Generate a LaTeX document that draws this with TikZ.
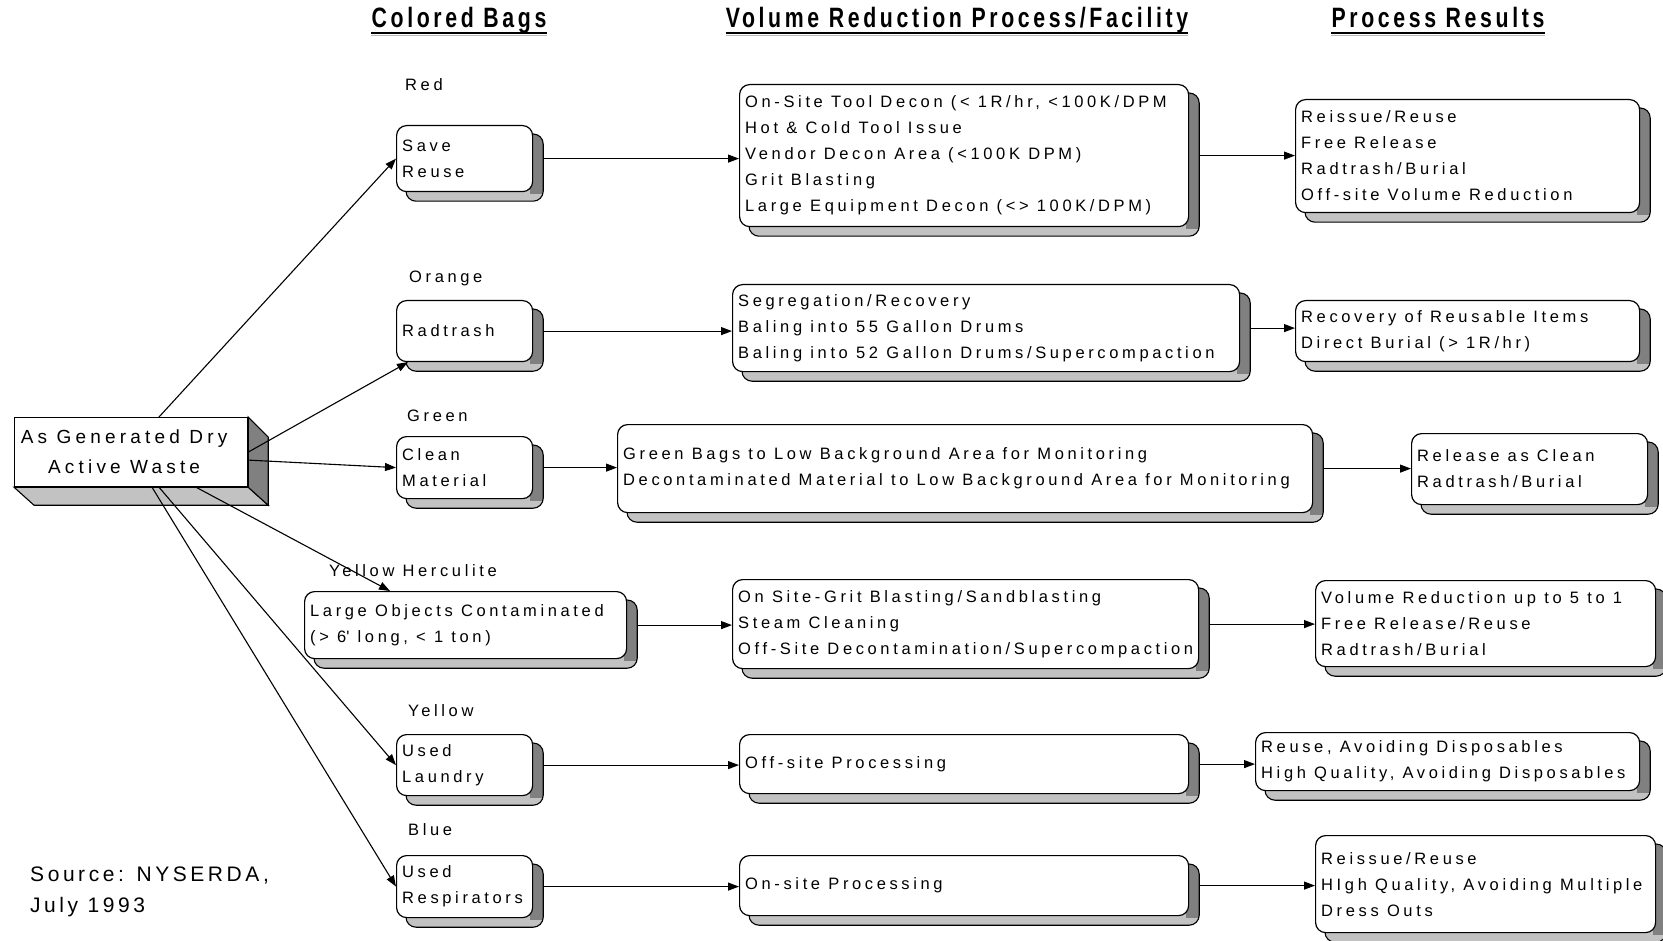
\documentclass[tikz,border=0pt]{standalone}
\usepackage{fontspec}
\setmainfont{Liberation Sans}
\newfontfamily\bodyfont[LetterSpace=22]{Liberation Sans}
\newfontfamily\notefont[LetterSpace=17]{Liberation Sans}
\newfontfamily\hdrfont[LetterSpace=13,FakeStretch=0.76]{Liberation Sans}
\usetikzlibrary{calc,arrows.meta}
\pgfdeclarelayer{shadowlayer}
\pgfsetlayers{shadowlayer,main}
\definecolor{shlight}{gray}{0.76}
\definecolor{shdark}{gray}{0.5}
\tikzset{
  bagbox/.style={draw=black, line width=1.2pt, rounded corners=10pt, fill=white, inner sep=0pt, anchor=north west},
  txt/.style={font=\bodyfont\fontsize{16.5}{26}\selectfont, align=left, anchor=west, inner sep=0pt},
  lbl/.style={font=\bodyfont\fontsize{16.5}{26}\selectfont, anchor=west, inner sep=0pt},
  hdr/.style={font=\hdrfont\bfseries\fontsize{28}{30}\selectfont, anchor=base, inner sep=0pt},
  arr/.style={line width=1.1pt, -{Triangle[length=11pt,width=8pt]}},
}
\newcommand\shadowof[1]{%
  \begin{pgfonlayer}{shadowlayer}
    \path[fill=shlight, rounded corners=10pt] ($(#1.north west)+(10,9)$) rectangle ($(#1.south east)+(10,9)$);
    \begin{scope}
      \clip[rounded corners=10pt] ($(#1.north west)+(10,9)$) rectangle ($(#1.south east)+(10,9)$);
      \fill[shdark] ($(#1.north east)+(-3,0)$) rectangle ($(#1.south east)+(14,2)$);
    \end{scope}
    \path[draw=black, line width=1.1pt, rounded corners=10pt] ($(#1.north west)+(10,9)$) rectangle ($(#1.south east)+(10,9)$);
  \end{pgfonlayer}}
\newcommand\mkbox[6]{%
  \pgfmathsetmacro\bw{#4-#2}\pgfmathsetmacro\bh{#5-#3}%
  \node[bagbox, minimum width=\bw pt, minimum height=\bh pt] (#1) at (#2,#3) {};
  \node[txt] (#1t) at ($(#1.west)+(6,0)$) {#6};
  \shadowof{#1}}
\begin{document}
\begin{tikzpicture}[x=1pt,y=-1pt]
\begin{pgfonlayer}{shadowlayer}
  \fill[white] (0,0) rectangle (1663,941);
\end{pgfonlayer}
\useasboundingbox (0,0) rectangle (1663,941);

% headers
\node[hdr] (h1) at (459,28) {Colored Bags};
\node[hdr] (h2) at (957,28) {Volume Reduction Process/Facility};
\node[hdr] (h3) at (1438,28) {Process Results};
\foreach \h in {h1,h2,h3}{
  \draw[gray!55, line width=1.5pt] ($(\h.base west)+(0,7.5)$) -- ($(\h.base east)+(0,7.5)$);
  \draw[black, line width=2pt] ($(\h.base west)+(0,5)$) -- ($(\h.base east)+(0,5)$);
}

% source block
\node[draw=black, line width=1.2pt, fill=white, minimum width=233pt, minimum height=69pt, inner sep=0pt,
      anchor=north west] (src) at (14,417) {};
\node[align=center, inner sep=0pt, font=\bodyfont\fontsize{19}{30}\selectfont] (srct) at ($(src.center)+(-7,0)$)
      {As Generated Dry\\Active Waste};
\draw[line width=1.1pt, fill=shlight] (src.south west) -- ($(src.south west)+(20,18)$) -- ($(src.south east)+(20,18)$) -- (src.south east) -- cycle;
\draw[line width=1.1pt, fill=shdark] (src.north east) -- ($(src.north east)+(20,20)$) -- ($(src.south east)+(20,18)$) -- (src.south east) -- cycle;

% bag labels
\node[lbl] (lred) at (405,85) {Red};
\node[lbl] (lorange) at (409,278) {Orange};
\node[lbl] (lgreen) at (407,416) {Green};
\node[lbl] (lyh) at (329,571) {Yellow Herculite};
\node[lbl] (lyellow) at (408,711) {Yellow};
\node[lbl] (lblue) at (408,830) {Blue};

% bag boxes
\mkbox{b1}{396}{125}{532}{191}{Save\\Reuse}
\mkbox{b2}{396}{300}{532}{361}{Radtrash}
\mkbox{b3}{396}{436}{532}{498}{Clean\\Material}
\mkbox{b4}{304}{591}{626}{658}{Large Objects Contaminated\\(> 6\textquotesingle{} long, < 1 ton)}
\mkbox{b5}{396}{734}{532}{795}{Used\\Laundry}
\mkbox{b6}{396}{855}{532}{917}{Used\\Respirators}

% process boxes
\mkbox{p1}{739}{84}{1188}{226}{On-Site Tool Decon (< 1R/hr, <100K/DPM\\Hot \& Cold Tool Issue\\Vendor Decon Area (<100K DPM)\\Grit Blasting\\Large Equipment Decon (<> 100K/DPM)}
\mkbox{p2}{732}{284}{1239}{371}{Segregation/Recovery\\Baling into 55 Gallon Drums\\Baling into 52 Gallon Drums/Supercompaction}
\mkbox{p3}{617}{424}{1312}{512}{Green Bags to Low Background Area for Monitoring\\Decontaminated Material to Low Background Area for Monitoring}
\mkbox{p4}{732}{579}{1198}{668}{On Site-Grit Blasting/Sandblasting\\Steam Cleaning\\Off-Site Decontamination/Supercompaction}
\mkbox{p5}{739}{734}{1188}{793}{Off-site Processing}
\mkbox{p6}{739}{855}{1188}{915}{On-site Processing}

% result boxes
\mkbox{r1}{1295}{99}{1639}{212}{Reissue/Reuse\\Free Release\\Radtrash/Burial\\Off-site Volume Reduction}
\mkbox{r2}{1295}{300}{1639}{361}{Recovery of Reusable Items\\Direct Burial (> 1R/hr)}
\mkbox{r3}{1411}{433}{1647}{504}{Release as Clean\\Radtrash/Burial}
\mkbox{r4}{1315}{580}{1655}{666}{Volume Reduction up to 5 to 1\\Free Release/Reuse\\Radtrash/Burial}
\mkbox{r5}{1255}{732}{1639}{790}{Reuse, Avoiding Disposables\\High Quality, Avoiding Disposables}
\mkbox{r6}{1315}{835}{1655}{932}{Reissue/Reuse\\HIgh Quality, Avoiding Multiple\\Dress Outs}

% source note
\node[font=\notefont\fontsize{21}{31}\selectfont, align=left, anchor=west, inner sep=0pt] (note) at (30,892) {Source: NYSERDA,\\July 1993};

% arrows from source
\draw[arr] ($(src.north west)+(145,0)$) -- (b1.west);
\draw[arr] (src.east) -- ($(b2.south west)+(12,0)$);
\draw[arr] ($(src.east)+(0,8)$) -- (b3.west);
\draw[arr] ($(src.south west)+(182,0)$) -- ($(b4.north west)+(86,0)$);
\draw[arr] ($(src.south west)+(145,0)$) -- (b5.west);
\draw[arr] ($(src.south west)+(138,0)$) -- (b6.west);

% horizontal connectors
\foreach \a/\b in {b1/p1,b2/p2,b3/p3,b4/p4,b5/p5,b6/p6,p1/r1,p2/r2,p3/r3,p4/r4,p5/r5,p6/r6}{
  \draw[arr] ($(\a.east)+(10,0)$) -- (\a.east -| \b.west);
}
\end{tikzpicture}
\end{document}
